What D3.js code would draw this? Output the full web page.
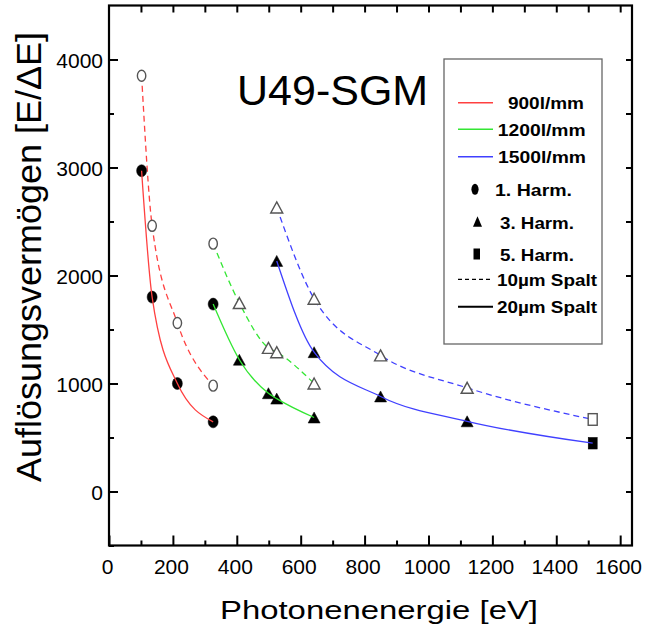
<!DOCTYPE html>
<html><head><meta charset="utf-8">
<script src="https://cdn.jsdelivr.net/npm/d3@7"></script>
<style>
html,body{margin:0;padding:0;background:#fff;}
text{font-family:"Liberation Sans",Arial,sans-serif;}
</style></head>
<body>
<svg id="chart" width="647" height="634"></svg>
<script>
// ---- data ----
const xTickLabels = ["0","200","400","600","800","1000","1200","1400","1600"];
const yTickLabels = ["0","1000","2000","3000","4000"];

// 900 l/mm grating (1st harmonic)
const e900 = [102, 135, 214, 326];
const r900_10 = [3850, 2460, 1560, 980];
const r900_20 = [2970, 1800, 1000, 645];
const h900 = [1, 1, 1, 1];

// 1200 l/mm grating
const e1200 = [326, 408, 499, 525, 642];
const r1200_10 = [2295, 1745, 1330, 1290, 1000];
const r1200_20 = [1735, 1220, 910, 860, 685];
const h1200 = [1, 3, 3, 3, 3];

// 1500 l/mm grating
const e1500 = [525, 642, 850, 1121, 1514];
const r1500_10 = [2630, 1785, 1260, 960, 667];
const r1500_20 = [2135, 1290, 880, 650, 447];
const h1500 = [3, 3, 3, 3, 5];

const gratingNames = ["900l/mm", "1200l/mm", "1500l/mm"];
const gratingColors = ["#ff4040", "#33e633", "#4040ff"];
const harmNames = ["1. Harm.", "3. Harm.", "5. Harm."];
const slitNames = ["10µm Spalt", "20µm Spalt"];

// ---- chart ----
const svg = d3.select("#chart");
const x = d3.scaleLinear().domain([0, 1637]).range([109, 632]);
const y = d3.scaleLinear().domain([-500, 4500]).range([545.5, 5.5]);

const groups = [
  {e: e900, r10: r900_10, r20: r900_20, h: h900, c: gratingColors[0]},
  {e: e1200, r10: r1200_10, r20: r1200_20, h: h1200, c: gratingColors[1]},
  {e: e1500, r10: r1500_10, r20: r1500_20, h: h1500, c: gratingColors[2]}
];

const line = d3.line().x(d => x(d[0])).y(d => y(d[1])).curve(d3.curveMonotoneX);

function marker(sel, harm, cx, cy, filled, s) {
  s = s || 1;
  const fill = filled ? "#000" : "#fff";
  const stroke = filled ? "#000" : "#555";
  const sw = filled ? 0.5 : 1.4;
  if (harm === 1) {
    sel.append("ellipse").attr("cx", cx).attr("cy", cy)
      .attr("rx", (filled ? 5 : 4.2) * s).attr("ry", (filled ? 6 : 5.5) * s)
      .attr("fill", fill).attr("stroke", stroke).attr("stroke-width", sw);
  } else if (harm === 3) {
    const w = 6 * s, h = 5.5 * s;
    sel.append("path")
      .attr("d", `M${cx},${cy - h}L${cx + w},${cy + h}L${cx - w},${cy + h}Z`)
      .attr("fill", fill).attr("stroke", stroke).attr("stroke-width", sw);
  } else {
    const w = 4.5 * s, h = 5.8 * s;
    sel.append("rect").attr("x", cx - w).attr("y", cy - h)
      .attr("width", 2 * w).attr("height", 2 * h)
      .attr("fill", fill).attr("stroke", stroke).attr("stroke-width", sw);
  }
}

const plot = svg.append("g");

// dashed lines (10 µm)
groups.forEach(g => {
  plot.append("path").datum(g.e.map((e, i) => [e, g.r10[i]]))
    .attr("d", line).attr("fill", "none").attr("stroke", g.c)
    .attr("stroke-width", 1.3).attr("stroke-dasharray", "6,4");
});
// open markers
groups.forEach(g => {
  g.e.forEach((e, i) => marker(plot, g.h[i], x(e), y(g.r10[i]), false));
});
// filled markers
groups.forEach(g => {
  g.e.forEach((e, i) => marker(plot, g.h[i], x(e), y(g.r20[i]), true));
});
// solid lines (20 µm)
groups.forEach(g => {
  plot.append("path").datum(g.e.map((e, i) => [e, g.r20[i]]))
    .attr("d", line).attr("fill", "none").attr("stroke", g.c)
    .attr("stroke-width", 1.3);
});

// ---- axes ----
const axisG = svg.append("g");
const xMajor = xTickLabels.map(Number);
const xMinor = d3.range(100, 1600, 200);
const yMajor = yTickLabels.map(Number);

const bottom = axisG.append("g").attr("transform", `translate(0,${y(-500)})`)
  .call(d3.axisBottom(x).tickValues(xMajor).tickFormat((d, i) => xTickLabels[i])
    .tickSizeInner(-10).tickSizeOuter(0).tickPadding(14));
bottom.selectAll(".tick text").attr("font-size", 21).attr("fill", "#000")
  .attr("font-family", "Liberation Sans, Arial, sans-serif").attr("dx", -2);
axisG.append("g").attr("transform", `translate(0,${y(-500)})`)
  .call(d3.axisBottom(x).tickValues(xMinor).tickFormat("").tickSizeInner(-5).tickSizeOuter(0));

const left = axisG.append("g").attr("transform", `translate(${x(0)},0)`)
  .call(d3.axisLeft(y).tickValues(yMajor).tickFormat((d, i) => yTickLabels[i])
    .tickSizeInner(-9).tickSizeOuter(0).tickPadding(6));
left.selectAll(".tick text").attr("font-size", 21).attr("fill", "#000")
  .attr("font-family", "Liberation Sans, Arial, sans-serif").attr("dy", "0.36em");
axisG.append("g").attr("transform", `translate(${x(0)},0)`)
  .call(d3.axisLeft(y).tickValues(d3.range(-500, 4500, 1000)).tickFormat("").tickSizeInner(-5).tickSizeOuter(0));

axisG.append("g").attr("transform", `translate(0,${y(4500)})`)
  .call(d3.axisTop(x).tickValues(d3.range(100, 1601, 100)).tickFormat("").tickSizeInner(-7).tickSizeOuter(0));
axisG.append("g").attr("transform", `translate(${x(1637)},0)`)
  .call(d3.axisRight(y).tickValues(d3.range(0, 4001, 500)).tickFormat("").tickSizeInner(-6).tickSizeOuter(0));

axisG.selectAll(".domain").remove();
axisG.selectAll(".tick line").attr("stroke", "#000").attr("stroke-width", 2);

// frame
svg.append("rect").attr("x", x(0)).attr("y", y(4500))
  .attr("width", x(1637) - x(0)).attr("height", y(-500) - y(4500))
  .attr("fill", "none").attr("stroke", "#000").attr("stroke-width", 2.2);

// axis titles
svg.append("text").attr("x", 379).attr("y", 619).attr("text-anchor", "middle")
  .attr("font-size", 26.5).attr("textLength", 318).attr("lengthAdjust", "spacingAndGlyphs")
  .text("Photonenenergie [eV]");
svg.append("text").attr("transform", "translate(41,257) rotate(-90)")
  .attr("text-anchor", "middle").attr("font-size", 35)
  .attr("textLength", 450).attr("lengthAdjust", "spacingAndGlyphs")
  .text("Auflösungsvermögen [E/ΔE]");

// title
svg.append("text").attr("x", 237).attr("y", 105).attr("font-size", 43)
  .text("U49-SGM");

// ---- legend ----
const lg = svg.append("g");
lg.append("rect").attr("x", 444).attr("y", 59).attr("width", 158).attr("height", 285)
  .attr("fill", "#fff").attr("stroke", "#666").attr("stroke-width", 1.3);

function ltext(t, tx, ty, len) {
  lg.append("text").attr("x", tx).attr("y", ty).attr("font-size", 16.5)
    .attr("font-weight", "bold").attr("textLength", len)
    .attr("lengthAdjust", "spacingAndGlyphs").text(t);
}
const gY = [102.7, 129.3, 156.7];
const gTx = [508, 497.7, 498];
const gLen = [76, 88, 88];
gratingNames.forEach((n, i) => {
  lg.append("line").attr("x1", 458).attr("x2", 493).attr("y1", gY[i]).attr("y2", gY[i])
    .attr("stroke", gratingColors[i]).attr("stroke-width", 1.5);
  ltext(n, gTx[i], gY[i] + 6.3, gLen[i]);
});
const hY = [189.3, 221.7, 254];
const hTx = [495, 500, 500];
const hLen = [77, 74, 74];
const hKind = [1, 3, 5];
harmNames.forEach((n, i) => {
  if (hKind[i] === 1) {
    lg.append("ellipse").attr("cx", 475).attr("cy", hY[i]).attr("rx", 3.6).attr("ry", 5.5).attr("fill", "#000");
  } else if (hKind[i] === 3) {
    lg.append("path").attr("d", `M477.5,${hY[i] - 5.5}L482,${hY[i] + 5}L473,${hY[i] + 5}Z`).attr("fill", "#000");
  } else {
    lg.append("rect").attr("x", 473.5).attr("y", hY[i] - 5.5).attr("width", 6.5).attr("height", 11).attr("fill", "#000");
  }
  ltext(n, hTx[i], hY[i] + 7, hLen[i]);
});
const sY = [279.3, 306.7];
slitNames.forEach((n, i) => {
  lg.append("line").attr("x1", 458).attr("x2", 493).attr("y1", sY[i]).attr("y2", sY[i])
    .attr("stroke", "#000").attr("stroke-width", i === 0 ? 1.3 : 2)
    .attr("stroke-dasharray", i === 0 ? "4,3" : null);
  ltext(n, 497, sY[i] + 6.5, 100);
});
</script>
</body></html>
